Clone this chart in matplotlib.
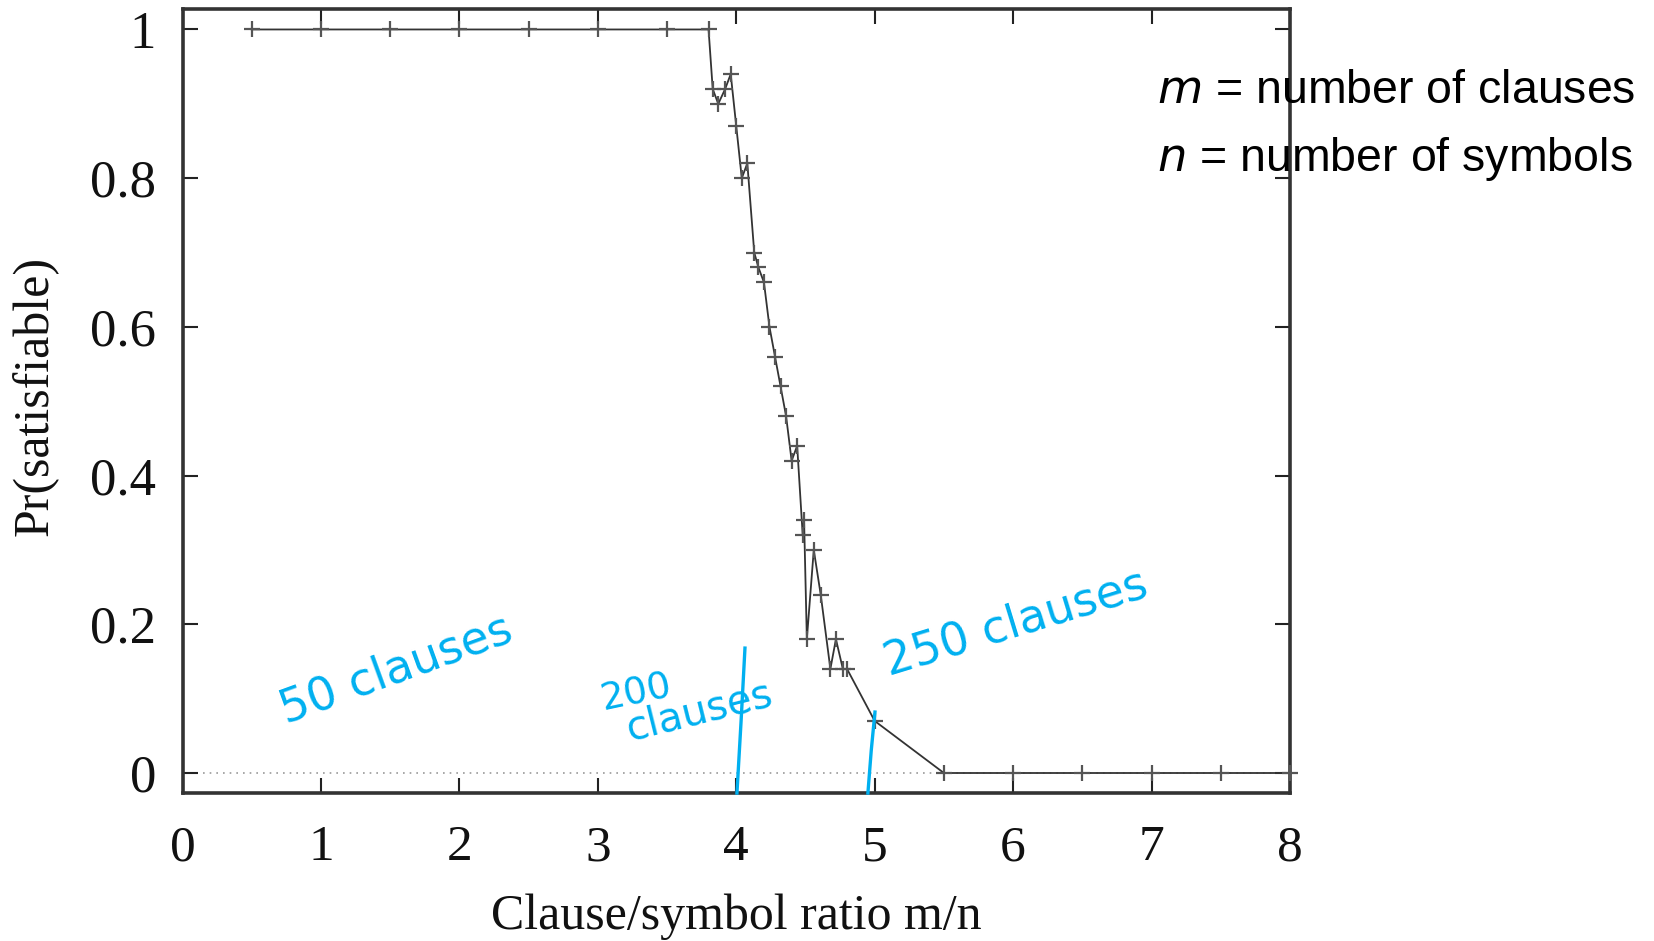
import matplotlib
matplotlib.use("Agg")
import matplotlib.pyplot as plt

# ---- data ----
ratio = [0.5, 1.0, 1.5, 2.0, 2.5, 3.0, 3.5, 3.80, 3.83, 3.87, 3.92, 3.96,
         4.00, 4.04, 4.08, 4.13, 4.16, 4.20, 4.24, 4.28, 4.32, 4.36, 4.40,
         4.44, 4.48, 4.49, 4.51, 4.56, 4.61, 4.68, 4.72, 4.77, 4.80, 5.00,
         5.50, 6.0, 6.5, 7.0, 7.5, 8.0]
prob_sat = [1.0, 1.0, 1.0, 1.0, 1.0, 1.0, 1.0, 1.0, 0.92, 0.90, 0.92, 0.94,
            0.87, 0.80, 0.82, 0.70, 0.68, 0.66, 0.60, 0.56, 0.52, 0.48, 0.42,
            0.44, 0.32, 0.34, 0.18, 0.30, 0.24, 0.14, 0.18, 0.14, 0.14, 0.07,
            0.0, 0.0, 0.0, 0.0, 0.0, 0.0]

x_ticks = [0, 1, 2, 3, 4, 5, 6, 7, 8]
y_ticks = [0, 0.2, 0.4, 0.6, 0.8, 1.0]
y_tick_labels = ["0", "0.2", "0.4", "0.6", "0.8", "1"]

# handwritten annotation strokes (data coords)
stroke1_x = [4.063, 4.035, 4.005]
stroke1_y = [0.168, 0.07, -0.027]
stroke2_x = [5.002, 4.975, 4.951]
stroke2_y = [0.082, 0.03, -0.027]

W, H = 1654, 941
fig = plt.figure(figsize=(W / 100, H / 100), dpi=100)
ax = fig.add_axes([182.5 / W, 1 - 793 / H, (1290 - 182.5) / W, (793 - 8.5) / H])

ax.axhline(0, color="#999999", lw=1.2, ls=(0, (1, 3)), zorder=1)
ax.plot(ratio, prob_sat, color="#333333", lw=1.3, marker="+", ms=12,
        mew=1.6, mec="#555555", zorder=3, clip_on=False)

ax.set_xlim(0, 8)
ax.set_ylim(-0.0269, 1.0282)
ax.set_xticks(x_ticks)
ax.set_yticks(y_ticks)
ax.set_yticklabels(y_tick_labels)

serif = ["Liberation Serif", "DejaVu Serif"]
for lab in ax.get_xticklabels():
    lab.set_fontfamily(serif)
    lab.set_fontsize(37)
    lab.set_color("#111111")
for lab in ax.get_yticklabels():
    lab.set_fontfamily(serif)
    lab.set_fontsize(38)
    lab.set_color("#111111")

ax.tick_params(axis="both", which="major", direction="in", length=11,
               width=1.5, color="#222222", top=True, right=True)
ax.tick_params(axis="y", pad=19)
ax.tick_params(axis="x", pad=23)
for s in ax.spines.values():
    s.set_linewidth(2.6)
    s.set_color("#333333")

def fx(px):
    return px / W

def fy(py):
    return 1 - py / H

fig.text(fx(736), fy(929), "Clause/symbol ratio m/n", family=serif, fontsize=36,
         ha="center", va="baseline", color="#111111")
fig.text(fx(35), fy(396), "Pr(satisfiable)", family=serif, fontsize=36,
         rotation=90, ha="center", va="center", color="#111111")

sans = ["Liberation Sans", "DejaVu Sans"]
fig.text(fx(1157), fy(103), r"$\mathit{m}$ = number of clauses", family=sans,
         fontsize=33.5, ha="left", va="baseline", color="black")
fig.text(fx(1157), fy(171), r"$\mathit{n}$ = number of symbols", family=sans,
         fontsize=33.5, ha="left", va="baseline", color="black")

# blue handwritten notes
blue = "#00b0f0"
hand = dict(family=["DejaVu Sans"], color=blue, ha="center", va="center")
fig.text(fx(396), fy(670), "50 clauses", fontsize=33, rotation=20, **hand)
fig.text(fx(636), fy(693), "200", fontsize=27, rotation=12, **hand)
fig.text(fx(700), fy(712), "clauses", fontsize=29, rotation=14, **hand)
fig.text(fx(1016), fy(624), "250 clauses", fontsize=33, rotation=17, **hand)
ax.plot(stroke1_x, stroke1_y, color=blue, lw=2.4, zorder=4, clip_on=False)
ax.plot(stroke2_x, stroke2_y, color=blue, lw=2.4, zorder=4, clip_on=False)

fig.savefig("out.png", dpi=100)
